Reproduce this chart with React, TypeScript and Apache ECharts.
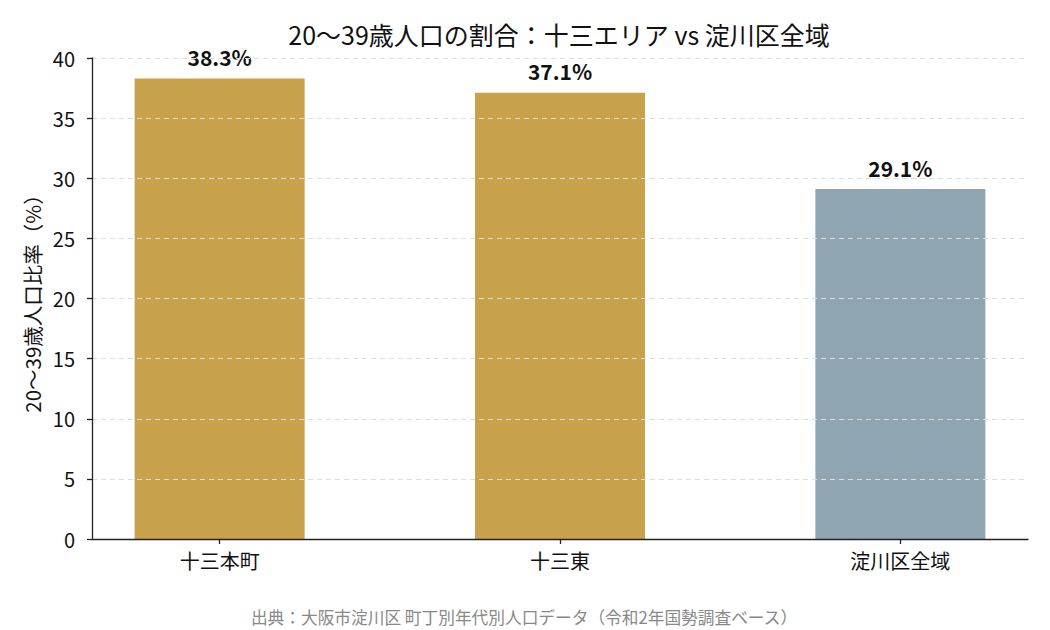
import React, { useEffect, useRef } from "react";
import * as echarts from "echarts";

const categories = ["十三本町", "十三東", "淀川区全域"];
const values = [38.3, 37.1, 29.1];
const barColors = ["#C8A24A", "#C8A24A", "#8FA5B2"];
const yTicks = [0, 5, 10, 15, 20, 25, 30, 35, 40];

const FONT = "'Noto Sans CJK JP', 'Noto Sans', sans-serif";

export default function App() {
  const ref = useRef<HTMLDivElement>(null);
  useEffect(() => {
    if (!ref.current) return;
    const chart = echarts.init(ref.current, undefined, { renderer: "svg" });
    const yAxisBase = {
      type: "value" as const,
      min: yTicks[0],
      max: yTicks[yTicks.length - 1],
      interval: yTicks[1] - yTicks[0],
    };
    chart.setOption({
      animation: false,
      backgroundColor: "#ffffff",
      textStyle: { fontFamily: FONT },
      title: [
        {
          text: "20〜39歳人口の割合：十三エリア vs 淀川区全域",
          left: 559,
          textAlign: "center",
          top: 19,
          padding: 0,
          textStyle: { fontFamily: FONT, fontSize: 25, lineHeight: 30, fontWeight: "normal", color: "#111" },
        },
        {
          text: "出典：大阪市淀川区 町丁別年代別人口データ（令和2年国勢調査ベース）",
          left: 524,
          textAlign: "center",
          top: 607,
          padding: 0,
          textStyle: { fontFamily: FONT, fontSize: 16.7, lineHeight: 20, fontWeight: "normal", color: "#888" },
        },
      ],
      grid: { left: 92, right: 22, top: 58, bottom: 91 },
      xAxis: {
        type: "value",
        min: -0.375,
        max: categories.length - 1 + 0.375,
        z: 6,
        splitLine: { show: false },
        axisLine: { show: true, onZero: false, lineStyle: { color: "#222", width: 1.3 } },
        axisTick: {
          show: true,
          length: 5,
          customValues: categories.map((_, i) => i),
          lineStyle: { color: "#222", width: 1.3 },
        },
        axisLabel: {
          customValues: categories.map((_, i) => i),
          formatter: (v: number) => categories[Math.round(v)] ?? "",
          margin: 11,
          fontSize: 20,
          color: "#111",
          fontFamily: FONT,
        },
      },
      yAxis: [
        {
          ...yAxisBase,
          z: 6,
          name: "20〜39歳人口比率（%）",
          nameLocation: "middle",
          nameGap: 50,
          nameTextStyle: { fontSize: 20.5, color: "#111", fontFamily: FONT },
          axisLine: { show: true, onZero: false, lineStyle: { color: "#222", width: 1.3 } },
          axisTick: { show: true, length: 5, lineStyle: { color: "#222", width: 1.3 } },
          axisLabel: { margin: 17, fontSize: 20, color: "#111", fontFamily: FONT },
          splitLine: { show: false },
        },
        {
          ...yAxisBase,
          position: "left",
          z: 5,
          axisLine: { show: false, onZero: false },
          axisTick: { show: false },
          axisLabel: { show: false },
          splitLine: {
            show: true,
            lineStyle: { color: "#dddddd", type: [5, 4], width: 1 },
          },
        },
      ],
      series: [
        {
          type: "bar",
          barWidth: 170,
          data: values.map((v, i) => ({
            value: [i, v],
            itemStyle: { color: barColors[i] },
          })),
          label: {
            show: true,
            position: "top",
            distance: 11,
            formatter: (p: any) => `${p.value[1].toFixed(1)}%`,
            fontSize: 21,
            fontWeight: "bold",
            color: "#111",
            fontFamily: FONT,
          },
        },
      ],
    });
    return () => chart.dispose();
  }, []);
  return (
    <div
      ref={ref}
      style={{ position: "fixed", left: 0, top: 0, width: 1050, height: 630, background: "#fff" }}
    />
  );
}
